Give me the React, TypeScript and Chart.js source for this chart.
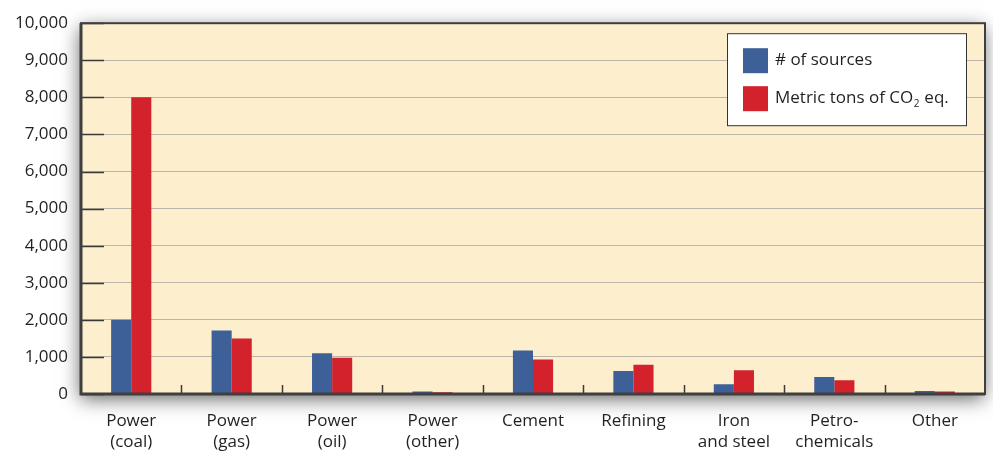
import React, { useEffect, useRef } from "react";
import { Chart, registerables } from "chart.js";

Chart.register(...registerables);

const categories: string[][] = [
  ["Power", "(coal)"],
  ["Power", "(gas)"],
  ["Power", "(oil)"],
  ["Power", "(other)"],
  ["Cement"],
  ["Refining"],
  ["Iron", "and steel"],
  ["Petro-", "chemicals"],
  ["Other"],
];
const sourcesValues = [2000, 1710, 1100, 70, 1170, 620, 260, 460, 80];
const co2Values = [8000, 1500, 980, 50, 930, 790, 640, 370, 70];
const seriesLabels = ["# of sources", "Metric tons of CO2 eq."];
const seriesColors = ["#3D6098", "#D3222B"];

const FONT = "'Open Sans', 'DejaVu Sans', sans-serif";

const decorPlugin = {
  id: "decor",
  beforeDraw(chart: any) {
    const { ctx, chartArea: a } = chart;
    ctx.save();
    ctx.shadowColor = "rgba(0,0,0,0.6)";
    ctx.shadowBlur = 18;
    ctx.shadowOffsetX = -1;
    ctx.shadowOffsetY = 5;
    ctx.fillStyle = "#FDEFCD";
    ctx.fillRect(a.left, a.top, a.right - a.left, a.bottom - a.top);
    ctx.restore();
  },
  afterDraw(chart: any) {
    const { ctx, chartArea: a } = chart;
    const y = chart.scales.y;
    const x = chart.scales.x;
    ctx.save();
    ctx.strokeStyle = "#3a3a3a";
    ctx.lineWidth = 1.5;
    y.ticks.forEach((t: any) => {
      const py = Math.round(y.getPixelForValue(t.value)) + 0.5;
      ctx.beginPath();
      ctx.moveTo(a.left, py);
      ctx.lineTo(a.left + 23, py);
      ctx.stroke();
    });
    const w = x.getPixelForValue(1) - x.getPixelForValue(0);
    for (let i = 1; i < categories.length; i++) {
      const px = Math.round(x.getPixelForValue(i) - w / 2) + 0.5;
      ctx.beginPath();
      ctx.moveTo(px, a.bottom);
      ctx.lineTo(px, a.bottom - 9);
      ctx.stroke();
    }
    ctx.strokeStyle = "#3f3f3f";
    ctx.lineWidth = 2;
    ctx.strokeRect(a.left, a.top, a.right - a.left, a.bottom - a.top);
    ctx.lineWidth = 3;
    ctx.beginPath();
    ctx.moveTo(a.left, a.top);
    ctx.lineTo(a.left, a.bottom);
    ctx.lineTo(a.right, a.bottom);
    ctx.stroke();

    const bx = a.right - 258;
    const by = a.top + 10;
    const bw = 239;
    const bh = 92;
    ctx.fillStyle = "#ffffff";
    ctx.fillRect(bx, by, bw, bh);
    ctx.strokeStyle = "#333333";
    ctx.lineWidth = 1;
    ctx.strokeRect(bx + 0.5, by + 0.5, bw, bh);
    const ds = chart.data.datasets;
    ds.forEach((d: any, i: number) => {
      const sy = by + 15 + i * 38;
      ctx.fillStyle = d.backgroundColor;
      ctx.fillRect(bx + 16, sy, 25, 25);
      ctx.fillStyle = "#231f20";
      ctx.font = `17px ${FONT}`;
      ctx.textBaseline = "middle";
      ctx.textAlign = "left";
      const label: string = d.label;
      const tx = bx + 48;
      const ty = sy + 12;
      const m = label.match(/^(.*CO)2(.*)$/);
      if (m) {
        ctx.fillText(m[1], tx, ty);
        const w1 = ctx.measureText(m[1]).width;
        ctx.font = `10px ${FONT}`;
        ctx.fillText("2", tx + w1 + 0.5, ty + 6);
        const w2 = ctx.measureText("2").width;
        ctx.font = `17px ${FONT}`;
        ctx.fillText(m[2], tx + w1 + w2 + 1, ty);
      } else {
        ctx.fillText(label, tx, ty);
      }
    });
    ctx.restore();
  },
};

export default function App() {
  const ref = useRef<HTMLCanvasElement | null>(null);
  useEffect(() => {
    document.body.style.margin = "0";
    const chart = new Chart(ref.current as HTMLCanvasElement, {
      type: "bar",
      data: {
        labels: categories,
        datasets: [
          {
            label: seriesLabels[0],
            data: sourcesValues,
            backgroundColor: seriesColors[0],
            categoryPercentage: 0.4,
            barPercentage: 1,
          },
          {
            label: seriesLabels[1],
            data: co2Values,
            backgroundColor: seriesColors[1],
            categoryPercentage: 0.4,
            barPercentage: 1,
          },
        ],
      },
      options: {
        animation: false,
        responsive: false,
        layout: { padding: { top: 20, right: 8, left: 0, bottom: 0 } },
        plugins: { legend: { display: false }, tooltip: { enabled: false } },
        scales: {
          x: {
            grid: { display: false },
            border: { display: false },
            ticks: {
              color: "#231f20",
              font: { family: FONT, size: 17, lineHeight: 1.24 },
              padding: 9,
              maxRotation: 0,
              autoSkip: false,
            },
            afterFit(s: any) {
              s.height = 59;
            },
          },
          y: {
            min: 0,
            max: 10000,
            grid: { color: "#bdb6a8", lineWidth: 1, drawTicks: false },
            border: { display: false },
            ticks: {
              stepSize: 1000,
              color: "#231f20",
              font: { family: FONT, size: 17 },
              padding: 13,
              callback: (v: any) => Number(v).toLocaleString("en-US"),
            },
            afterFit(s: any) {
              s.width = 81;
            },
          },
        },
      },
      plugins: [decorPlugin],
    });
    return () => chart.destroy();
  }, []);
  return <canvas ref={ref} width={993} height={453} style={{ display: "block" }} />;
}
